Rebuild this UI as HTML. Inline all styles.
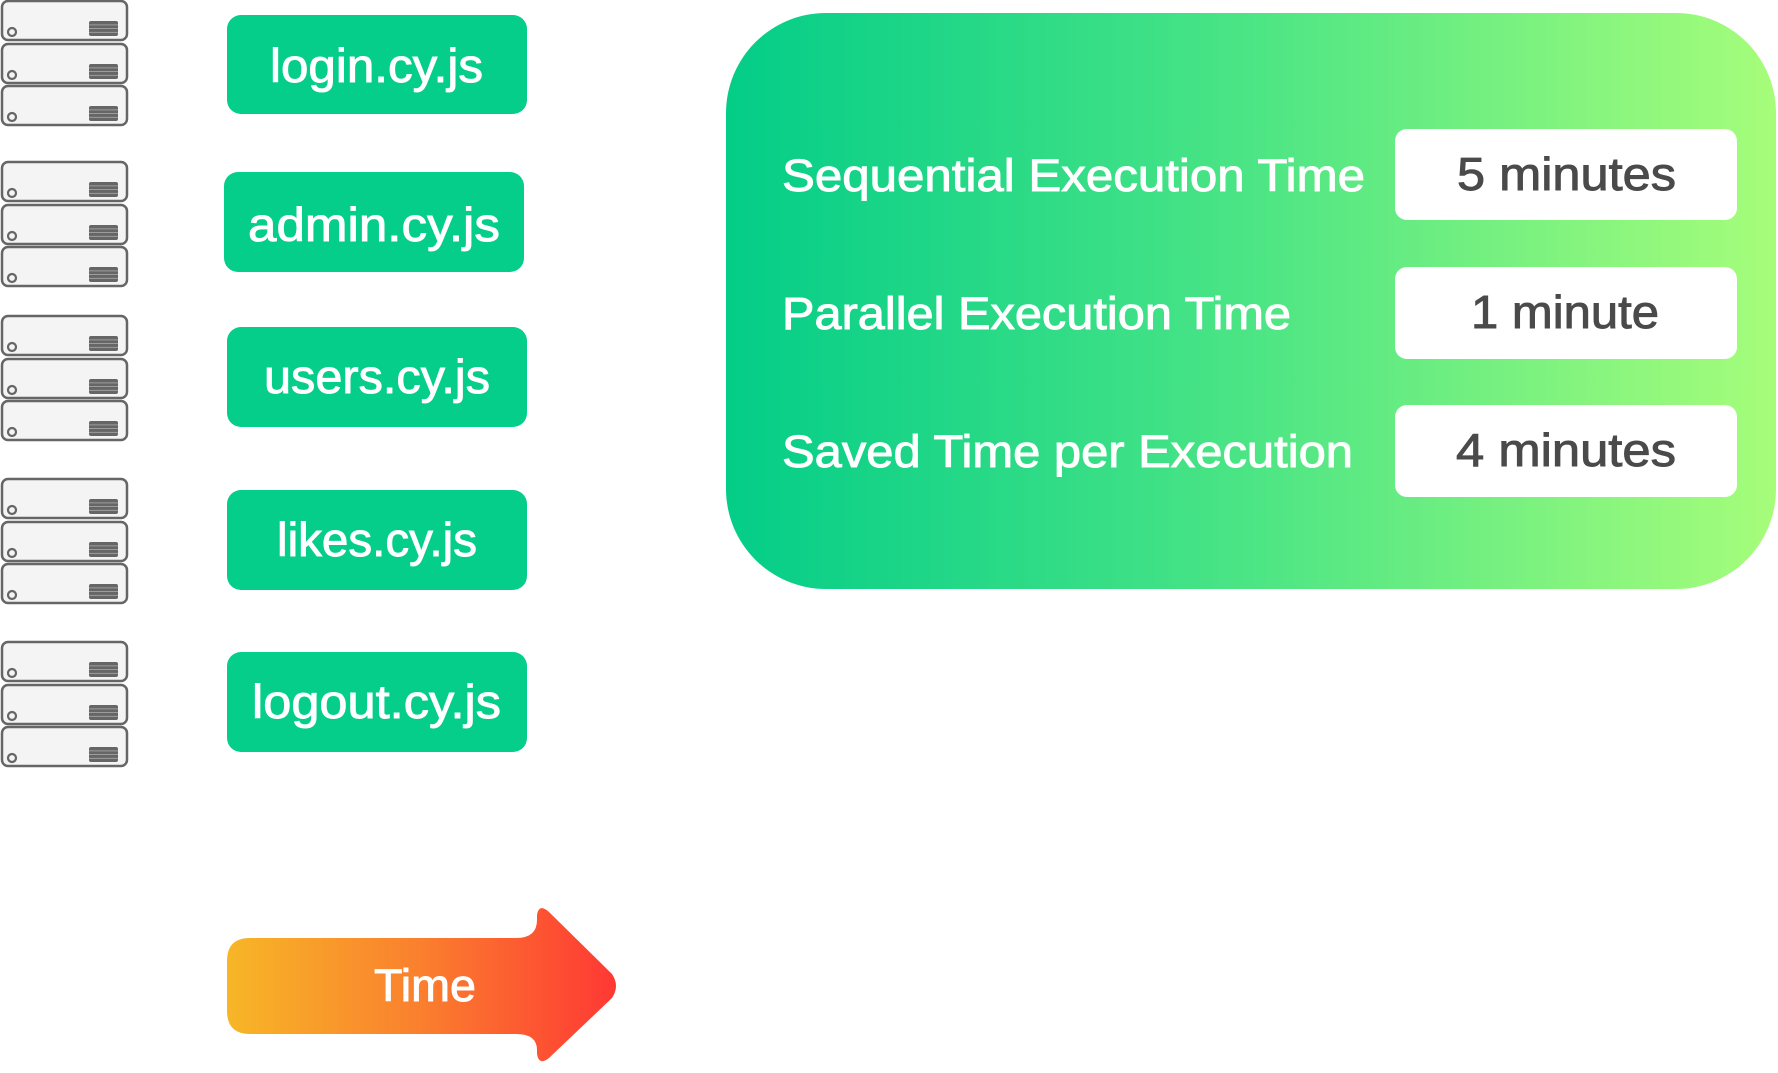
<!DOCTYPE html>
<html><head><meta charset="utf-8"><style>html,body{margin:0;padding:0;background:#fff}svg{display:block}</style></head>
<body>
<svg width="1778" height="1073" viewBox="0 0 1778 1073" xmlns="http://www.w3.org/2000/svg" font-family="Liberation Sans, sans-serif">
<defs>
<linearGradient id="g" x1="0" y1="0" x2="1" y2="0"><stop offset="0" stop-color="#03CD88"/><stop offset="0.5" stop-color="#4CE585"/><stop offset="1" stop-color="#A6FD7A"/></linearGradient>
<linearGradient id="o" x1="0" y1="0" x2="1" y2="0"><stop offset="0" stop-color="#F7B627"/><stop offset="0.5" stop-color="#FA7F2E"/><stop offset="1" stop-color="#FF3834"/></linearGradient>
<g id="u">
<rect x="2" y="1" width="125" height="39" rx="6" fill="#f4f4f4" stroke="#666" stroke-width="2.5"/>
<circle cx="12" cy="32" r="4" fill="none" stroke="#666" stroke-width="2.2"/>
<rect x="89" y="21" width="29" height="15" rx="2" fill="#666"/>
<rect x="89" y="24.5" width="29" height="0.8" fill="#aaa"/>
<rect x="89" y="28.2" width="29" height="0.8" fill="#aaa"/>
<rect x="89" y="31.9" width="29" height="0.8" fill="#aaa"/>
</g>
<g id="s"><use href="#u"/><use href="#u" y="43"/><use href="#u" y="85"/></g>
</defs>
<use href="#s" y="0"/><use href="#s" y="161"/><use href="#s" y="315"/><use href="#s" y="478"/><use href="#s" y="641"/>
<g fill="#04CE8A">
<rect x="227" y="15" width="300" height="99" rx="14"/>
<rect x="224" y="172" width="300" height="100" rx="14"/>
<rect x="227" y="327" width="300" height="100" rx="14"/>
<rect x="227" y="490" width="300" height="100" rx="14"/>
<rect x="227" y="652" width="300" height="100" rx="14"/>
</g>
<g fill="#fff" stroke="#fff" stroke-width="0.9" font-size="47">
<text x="270" y="82" textLength="213" lengthAdjust="spacingAndGlyphs">login.cy.js</text>
<text x="248" y="241" textLength="252" lengthAdjust="spacingAndGlyphs">admin.cy.js</text>
<text x="264" y="393" textLength="226" lengthAdjust="spacingAndGlyphs">users.cy.js</text>
<text x="277" y="556" textLength="200" lengthAdjust="spacingAndGlyphs">likes.cy.js</text>
<text x="252" y="718" textLength="249" lengthAdjust="spacingAndGlyphs">logout.cy.js</text>
</g>
<rect x="726" y="13" width="1050" height="576" rx="100" fill="url(#g)"/>
<g fill="#fff" stroke="#fff" stroke-width="0.9" font-size="45">
<text x="782" y="191" textLength="583" lengthAdjust="spacingAndGlyphs">Sequential Execution Time</text>
<text x="782" y="329" textLength="509" lengthAdjust="spacingAndGlyphs">Parallel Execution Time</text>
<text x="782" y="467" textLength="571" lengthAdjust="spacingAndGlyphs">Saved Time per Execution</text>
</g>
<g fill="#fff">
<rect x="1395" y="129" width="342" height="91" rx="12"/>
<rect x="1395" y="267" width="342" height="92" rx="12"/>
<rect x="1395" y="405" width="342" height="92" rx="12"/>
</g>
<g fill="#4a4a4a" stroke="#4a4a4a" stroke-width="0.9" font-size="46">
<text x="1457" y="190" textLength="219" lengthAdjust="spacingAndGlyphs">5 minutes</text>
<text x="1471" y="328" textLength="188" lengthAdjust="spacingAndGlyphs">1 minute</text>
<text x="1456" y="466" textLength="220" lengthAdjust="spacingAndGlyphs">4 minutes</text>
</g>
<path d="M250 938 L516 938 Q537 938 537 920 L537 915 Q539 903 549 912 L612 974 Q620 986 612 998 L549 1058 Q539 1066 537 1054 L537 1050 Q537 1034 516 1034 L250 1034 Q227 1034 227 1011 L227 961 Q227 938 250 938 Z" fill="url(#o)"/>
<text x="374" y="1001" fill="#fff" stroke="#fff" stroke-width="0.9" font-size="45" textLength="102" lengthAdjust="spacingAndGlyphs">Time</text>
</svg>
</body></html>
